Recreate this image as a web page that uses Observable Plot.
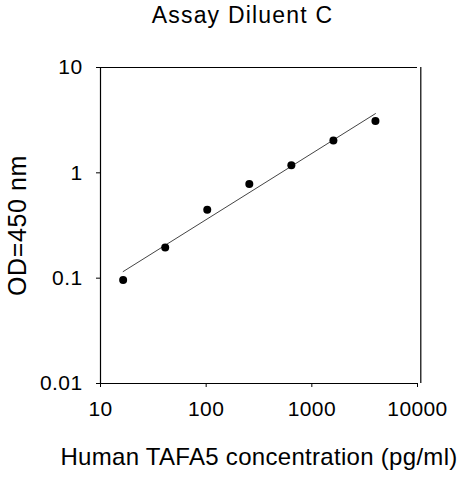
<!DOCTYPE html>
<html>
<head>
<meta charset="utf-8">
<script src="https://cdn.jsdelivr.net/npm/d3@7"></script>
<script src="https://cdn.jsdelivr.net/npm/@observablehq/plot@0.6"></script>
<style>
  body { margin: 0; background: #fff; font-family: "Liberation Sans", Arial, sans-serif; }
  #title { width: 441px; padding-left: 22px; height: 30px; line-height: 30px; text-align: center;
           font-size: 23px; letter-spacing: 1.2px; color: #000; }
</style>
</head>
<body>
<div id="title">Assay Diluent C</div>
<div id="chart"></div>
<script>
// standard curve, 2.5-fold dilutions
const conc = [16.38, 40.96, 102.4, 256, 640, 1600, 4000];
const od = [0.096, 0.195, 0.447, 0.785, 1.18, 2.03, 3.1];

// fitted line end points
const fitConc = [16.38, 4000];
const fitOd = [0.1155, 3.65];

const xTicks = [10, 100, 1000, 10000];
const yTicks = [0.01, 0.1, 1, 10];

const points = conc.map((c, i) => ({conc: c, od: od[i]}));
const fit = fitConc.map((c, i) => ({conc: c, od: fitOd[i]}));

let chart = Plot.plot({
  width: 463,
  height: 450,
  marginTop: 37,
  marginBottom: 97,
  marginLeft: 100,
  marginRight: 46,
  style: {fontFamily: "'Liberation Sans', Arial, sans-serif", fontSize: "21px", color: "#000", background: "#fff"},
  x: {type: "log", domain: [10, 10000]},
  y: {type: "log", domain: [0.01, 10]},
  marks: [
    Plot.axisX({ticks: xTicks, tickFormat: d => String(d), tickSize: 4, tickPadding: 14,
      label: "Human TAFA5 concentration (pg/ml)", labelAnchor: "center", labelOffset: 81, labelArrow: "none"}),
    Plot.axisY({ticks: yTicks, tickFormat: d => String(d), tickSize: 4, tickPadding: 14,
      label: "OD=450 nm", labelAnchor: "center", labelOffset: 92, labelArrow: "none"}),
    Plot.ruleY([0.01], {stroke: "#000", strokeWidth: 1.2}),
    Plot.ruleX([10], {stroke: "#000", strokeWidth: 1.2}),
    Plot.ruleY([10], {stroke: "#000", strokeWidth: 1.2}),
    Plot.ruleX([10000], {stroke: "#000", strokeWidth: 1.2, dx: 3.3}),
    Plot.line(fit, {x: "conc", y: "od", stroke: "#444", strokeWidth: 1}),
    Plot.dot(points, {x: "conc", y: "od", r: 4, fill: "#000", stroke: "none"})
  ]
});

d3.select("#chart").append(() => chart);

// axis titles are bigger than the tick labels
d3.select(chart).selectAll("g[aria-label='x-axis label'] text")
  .style("font-size", "24px").style("letter-spacing", "0.3px");
d3.select(chart).selectAll("g[aria-label='y-axis label'] text")
  .style("font-size", "25px").style("letter-spacing", "0.6px");
d3.select(chart).selectAll("g[aria-label='x-axis tick label'] text, g[aria-label='y-axis tick label'] text")
  .style("letter-spacing", "0.4px");
</script>
</body>
</html>
